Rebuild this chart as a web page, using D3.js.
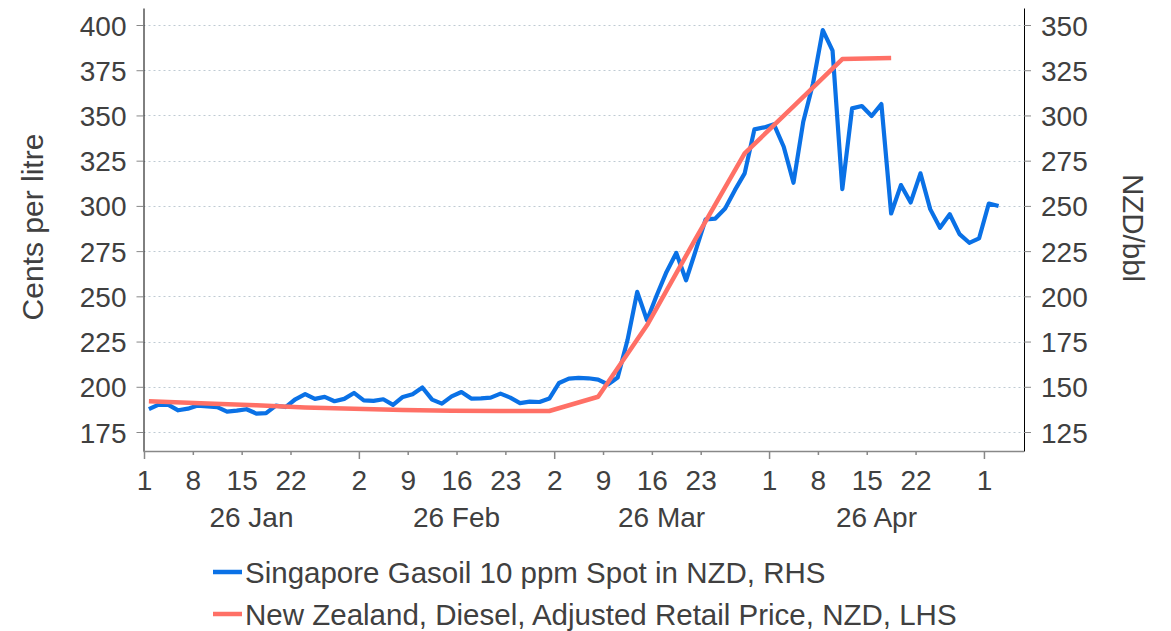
<!DOCTYPE html>
<html>
<head>
<meta charset="utf-8">
<script src="https://cdn.jsdelivr.net/npm/d3@7"></script>
<style>
  body { margin: 0; background: #fff; }
  svg { display: block; font-family: "Liberation Sans", Arial, sans-serif; }
</style>
</head>
<body>
<div id="chart-area"></div>
<script>
// business days, Jan - May 2026 (x axis runs on trading days)
const gasoilDates = [
  "01-01","01-02","01-05","01-06","01-07","01-08","01-09","01-12","01-13","01-14","01-15","01-16",
  "01-19","01-20","01-21","01-22","01-23","01-26","01-27","01-28","01-29","01-30",
  "02-02","02-03","02-04","02-05","02-06","02-09","02-10","02-11","02-12","02-13",
  "02-16","02-17","02-18","02-19","02-20","02-23","02-24","02-25","02-26","02-27",
  "03-02","03-03","03-04","03-05","03-06","03-09","03-10","03-11","03-12","03-13",
  "03-16","03-17","03-18","03-19","03-20","03-23","03-24","03-25","03-26","03-27","03-30","03-31",
  "04-01","04-02","04-03","04-06","04-07","04-08","04-09","04-10","04-13","04-14","04-15","04-16",
  "04-17","04-20","04-21","04-22","04-23","04-24","04-27","04-28","04-29","04-30",
  "05-01","05-04"
].map(d => "2026-" + d)

// Singapore Gasoil 10 ppm spot, NZD/bbl (RHS)
const gasoilValues = [
  137.6, 140.1, 140.0, 137.0, 137.9, 139.6, 139.2, 138.8, 136.3, 136.8, 137.6, 135.2,
  135.4, 139.6, 138.8, 143.1, 145.9, 143.3, 144.4, 142.0, 143.3, 146.6,
  142.5, 142.2, 143.1, 140.0, 144.4, 145.9, 149.6, 142.9, 140.7, 144.7,
  147.1, 143.5, 143.6, 144.0, 146.2, 144.0, 141.0, 141.8, 141.6, 143.5,
  152.1, 154.5, 154.9, 154.7, 154.0, 151.3, 155.1, 175.7, 202.5, 186.8,
  200.6, 213.5, 224.0, 208.9, 225.5, 242.5, 243.0, 248.6, 258.7, 268.0, 292.3, 293.4,
  295.1, 282.7, 262.8, 296.5, 317.7, 347.2, 335.8, 259.3, 303.9, 305.2, 299.7, 306.3,
  245.8, 261.5, 251.9, 268.0, 248.2, 237.9, 245.4, 234.4, 229.6, 232.0,
  251.3, 249.9
]

// NZ diesel adjusted retail price, cents per litre (LHS), weekly
const dieselDates = [
  "2026-01-01","2026-01-09","2026-01-16","2026-01-23","2026-01-30","2026-02-06","2026-02-13","2026-02-20",
  "2026-02-27","2026-03-06","2026-03-13","2026-03-20","2026-03-27","2026-04-03","2026-04-10","2026-04-17"
]
const dieselValues = [
  192.0, 190.8, 189.8, 188.6, 187.8, 187.2, 186.8, 186.6,
  186.6, 194.5, 234.0, 282.0, 329.0, 355.0, 381.2, 381.7
]

const leftTicks = [175, 200, 225, 250, 275, 300, 325, 350, 375, 400]
const rightTicks = [125, 150, 175, 200, 225, 250, 275, 300, 325, 350]

const tickDates = [
  "2026-01-01","2026-01-08","2026-01-15","2026-01-22",
  "2026-02-02","2026-02-09","2026-02-16","2026-02-23",
  "2026-03-02","2026-03-09","2026-03-16","2026-03-23",
  "2026-04-01","2026-04-08","2026-04-15","2026-04-22",
  "2026-05-01"
]
const tickLabels = ["1","8","15","22","2","9","16","23","2","9","16","23","1","8","15","22","1"]
const monthStarts = ["2026-01-01","2026-02-02","2026-03-02","2026-04-01","2026-05-01"]
const monthLabels = ["26 Jan","26 Feb","26 Mar","26 Apr"]

const BLUE = "#0a71e6"
const RED = "#ff7066"
const TEXT = "#404040"

const W = 1171, H = 631
const PLOT = { LEFT: 143.5, RIGHT: 1024, TOP: 8, BOTTOM: 451 }

const svg = d3.select("#chart-area").append("svg")
  .attr("width", W)
  .attr("height", H)

const dayIndex = new Map(gasoilDates.map((d, i) => [d, i]))

// scales
const x = d3.scaleLinear().domain([0, 90]).range([144, 1023])
const yL = d3.scaleLinear().domain([164.5, 409.4]).range([PLOT.BOTTOM, PLOT.TOP])
const yR = d3.scaleLinear().domain([114.5, 359.4]).range([PLOT.BOTTOM, PLOT.TOP])

// grid
svg.append("g")
  .selectAll("line")
  .data(leftTicks)
  .join("line")
    .attr("x1", PLOT.LEFT)
    .attr("x2", PLOT.RIGHT)
    .attr("y1", d => Math.round(yL(d)) + 0.5)
    .attr("y2", d => Math.round(yL(d)) + 0.5)
    .attr("stroke", "#bfcad3")
    .attr("stroke-dasharray", "2,3")

// left axis
const leftAxis = svg.append("g")
  .attr("transform", `translate(${PLOT.LEFT}, 0)`)
  .call(d3.axisLeft(yL).tickValues(leftTicks).tickSize(7).tickSizeOuter(0).tickPadding(10))
leftAxis.select(".domain").attr("stroke", "#000")
leftAxis.selectAll(".tick line").attr("stroke", "#888")
leftAxis.selectAll(".tick text")
  .attr("font-size", 28)
  .attr("fill", TEXT)
  .attr("dy", "0.36em")

// right axis
const rightAxis = svg.append("g")
  .attr("transform", `translate(${PLOT.RIGHT}, 0)`)
  .call(d3.axisRight(yR).tickValues(rightTicks).tickSize(7).tickSizeOuter(0).tickPadding(10))
rightAxis.select(".domain").attr("stroke", "#000")
rightAxis.selectAll(".tick line").attr("stroke", "#888")
rightAxis.selectAll(".tick text")
  .attr("font-size", 28)
  .attr("fill", TEXT)
  .attr("dy", "0.36em")

// bottom axis
const bottomAxis = svg.append("g")
  .attr("transform", `translate(0, ${PLOT.BOTTOM})`)
  .call(d3.axisBottom(x)
    .tickValues(tickDates.map(d => dayIndex.get(d)))
    .tickFormat((d, i) => tickLabels[i])
    .tickSizeOuter(0)
    .tickSize(4))
bottomAxis.select(".domain")
  .attr("d", `M${PLOT.LEFT},0.5H${PLOT.RIGHT}`)
  .attr("stroke", "#888")
  .attr("stroke-width", 1.5)
bottomAxis.selectAll(".tick line")
  .attr("stroke", "#888")
  .attr("stroke-width", 1.5)
  .attr("y2", (d, i) => monthStarts.includes(tickDates[i]) ? 8 : 4)
bottomAxis.selectAll(".tick text")
  .attr("font-size", 28)
  .attr("fill", TEXT)
  .attr("y", 39)
  .attr("dy", null)

// month labels, centred between month starts
svg.append("g")
  .selectAll("text")
  .data(monthLabels)
  .join("text")
    .attr("x", (d, i) => (x(dayIndex.get(monthStarts[i])) + x(dayIndex.get(monthStarts[i + 1]))) / 2)
    .attr("y", 527)
    .attr("text-anchor", "middle")
    .attr("font-size", 28)
    .attr("fill", TEXT)
    .text(d => d)

// axis titles
svg.append("text")
  .attr("transform", `translate(43, 227) rotate(-90)`)
  .attr("text-anchor", "middle")
  .attr("font-size", 30)
  .attr("fill", TEXT)
  .text("Cents per litre")

svg.append("text")
  .attr("transform", `translate(1123, 228) rotate(90)`)
  .attr("text-anchor", "middle")
  .attr("font-size", 29.5)
  .attr("fill", TEXT)
  .text("NZD/bbl")

// lines
const gasoilLine = d3.line()
  .x((d, i) => x(dayIndex.get(gasoilDates[i]) + 0.5))
  .y(d => yR(d))

const dieselLine = d3.line()
  .x((d, i) => x(dayIndex.get(dieselDates[i]) + 0.5))
  .y(d => yL(d))

svg.append("path")
  .attr("d", gasoilLine(gasoilValues))
  .attr("fill", "none")
  .attr("stroke", BLUE)
  .attr("stroke-width", 4.2)
  .attr("stroke-linejoin", "round")

svg.append("path")
  .attr("d", dieselLine(dieselValues))
  .attr("fill", "none")
  .attr("stroke", RED)
  .attr("stroke-width", 4.5)
  .attr("stroke-linejoin", "round")

// legend
const legendItems = [
  { label: "Singapore Gasoil 10 ppm Spot in NZD, RHS", color: BLUE },
  { label: "New Zealand, Diesel, Adjusted Retail Price, NZD, LHS", color: RED }
]
const legend = svg.append("g")
  .selectAll("g")
  .data(legendItems)
  .join("g")
    .attr("transform", (d, i) => `translate(213, ${572 + i * 42})`)
legend.append("line")
  .attr("x1", 0)
  .attr("x2", 29)
  .attr("stroke", d => d.color)
  .attr("stroke-width", 4.5)
legend.append("text")
  .attr("x", 32)
  .attr("dy", "0.36em")
  .attr("font-size", 29.5)
  .attr("fill", TEXT)
  .text(d => d.label)
</script>
</body>
</html>
